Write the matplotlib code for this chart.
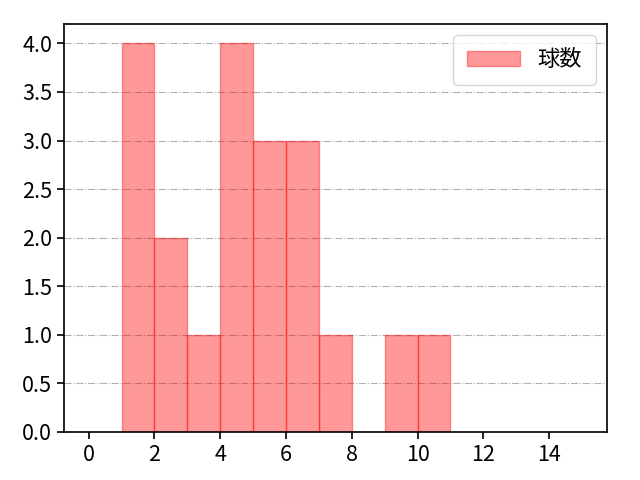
import numpy as np
import matplotlib
matplotlib.use('Agg')
import matplotlib.pyplot as plt

plt.rcParams['font.family'] = ['Noto Sans CJK JP', 'DejaVu Sans']
plt.rcParams['font.size'] = 16

bin_edges = [1, 2, 3, 4, 5, 6, 7, 8, 9, 10, 11]
counts = [4, 2, 1, 4, 3, 3, 1, 0, 1, 1]
label = '球数'

fig, ax = plt.subplots(figsize=(6.4, 4.8), dpi=100)
fig.subplots_adjust(left=0.1, right=0.948, top=0.95, bottom=0.1)
ax.hist(bin_edges[:-1], bins=bin_edges, weights=counts,
        color='red', alpha=0.4, edgecolor='red', label=label)

ax.set_xlim(-0.75, 15.75)
ax.set_ylim(0, 4.2)
ax.set_xticks(np.arange(0, 15, 2))
ax.set_yticks(np.arange(0, 4.01, 0.5))
ax.yaxis.grid(True, linestyle='-.', color='#b0b0b0')
ax.set_axisbelow(True)
for s in ax.spines.values():
    s.set_linewidth(1.2)
ax.tick_params(width=1.2, length=5, labelsize=15.5)
ax.legend(loc='upper right', handlelength=2.4, borderpad=0.6)

fig.savefig('out.png')
